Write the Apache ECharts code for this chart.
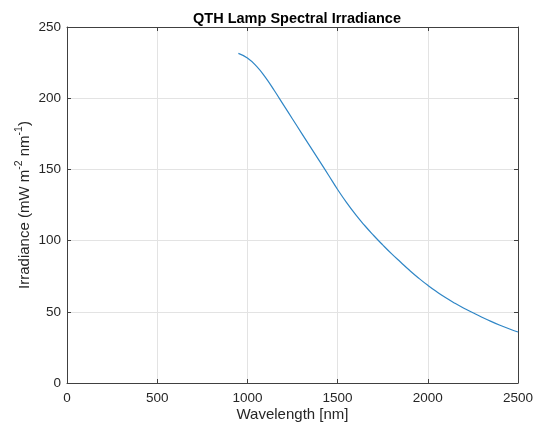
<!DOCTYPE html>
<html>
<head>
<meta charset="utf-8">
<script src="https://cdn.jsdelivr.net/npm/echarts@6/dist/echarts.min.js"></script>
<style>html,body{margin:0;padding:0;background:#fff;}#c{width:536px;height:430px;}</style>
</head>
<body>
<div id="c"></div>
<script>
const wavelength = [950,1000,1050,1100,1150,1200,1250,1300,1350,1400,1450,1500,1550,1600,1650,1700,1750,1800,1850,1900,1950,2000,2050,2100,2150,2200,2250,2300,2350,2400,2450,2500];
const irradiance = [231.5,228.2,222.5,214.6,205.2,195.3,185.4,175.5,165.6,155.8,145.9,135.9,126.6,118.2,110.6,103.6,97.0,90.7,84.8,79.0,73.6,68.6,64.0,59.8,56.0,52.5,49.3,46.2,43.3,40.6,38.1,35.8];
const xTicks = [0,500,1000,1500,2000,2500];
const yTicks = [0,50,100,150,200,250];

const font = 'Liberation Sans, Arial, Helvetica, sans-serif';
const axisColor = '#404040';
const txt = '#262626';
const data = wavelength.map((w,i)=>[w, irradiance[i]]);

const chart = echarts.init(document.getElementById('c'), null, {renderer:'canvas'});
const gridLine = {show:true, lineStyle:{color:'#e3e3e3', width:1}};
chart.setOption({
  animation:false,
  backgroundColor:'#fff',
  title:{text:'QTH Lamp Spectral Irradiance', left:292, top:6, textAlign:'center',
    textStyle:{fontFamily:font, fontSize:14.5, fontWeight:'bold', color:'#000'}},
  grid:{left:67, right:18, top:27, bottom:47, show:false, containLabel:false, outerBoundsMode:'none'},
  xAxis:[{
    type:'value', min:xTicks[0], max:xTicks[xTicks.length-1], interval:500,
    name:'Wavelength [nm]', nameLocation:'middle', nameGap:24, nameMoveOverlap:false,
    nameTextStyle:{fontFamily:font, fontSize:15, color:txt},
    axisLine:{show:true, onZero:false, lineStyle:{color:axisColor, width:1}},
    axisTick:{show:true, inside:true, length:4, lineStyle:{color:axisColor}},
    axisLabel:{fontFamily:font, fontSize:13.5, color:txt, margin:8, formatter:v=>String(v)},
    splitLine:gridLine
  },{
    type:'value', position:'top', min:0, max:2500, interval:500,
    axisLine:{show:true, onZero:false, lineStyle:{color:axisColor, width:1}},
    axisTick:{show:true, inside:true, length:4, lineStyle:{color:axisColor}},
    axisLabel:{show:false}, splitLine:{show:false}
  }],
  yAxis:[{
    type:'value', min:yTicks[0], max:yTicks[yTicks.length-1], interval:50,
    name:'Irradiance (mW m{s|-2} nm{s|-1})', nameLocation:'middle', nameGap:42, nameRotate:90, nameMoveOverlap:false,
    nameTextStyle:{fontFamily:font, fontSize:15, color:txt, lineHeight:22, verticalAlign:'middle',
      rich:{s:{fontFamily:font, fontSize:10.5, color:txt, verticalAlign:'top', lineHeight:12}}},
    axisLine:{show:true, onZero:false, lineStyle:{color:axisColor, width:1}},
    axisTick:{show:true, inside:true, length:4, lineStyle:{color:axisColor}},
    axisLabel:{fontFamily:font, fontSize:13.5, color:txt, margin:6, formatter:v=>String(v)},
    splitLine:gridLine
  },{
    type:'value', position:'right', min:0, max:250, interval:50,
    axisLine:{show:true, onZero:false, lineStyle:{color:axisColor, width:1}},
    axisTick:{show:true, inside:true, length:4, lineStyle:{color:axisColor}},
    axisLabel:{show:false}, splitLine:{show:false}
  }],
  series:[{
    type:'line', data:data, smooth:0.5, showSymbol:false,
    lineStyle:{color:'#2f86c6', width:1.2}, itemStyle:{color:'#2f86c6'}
  }]
});
</script>
</body>
</html>
